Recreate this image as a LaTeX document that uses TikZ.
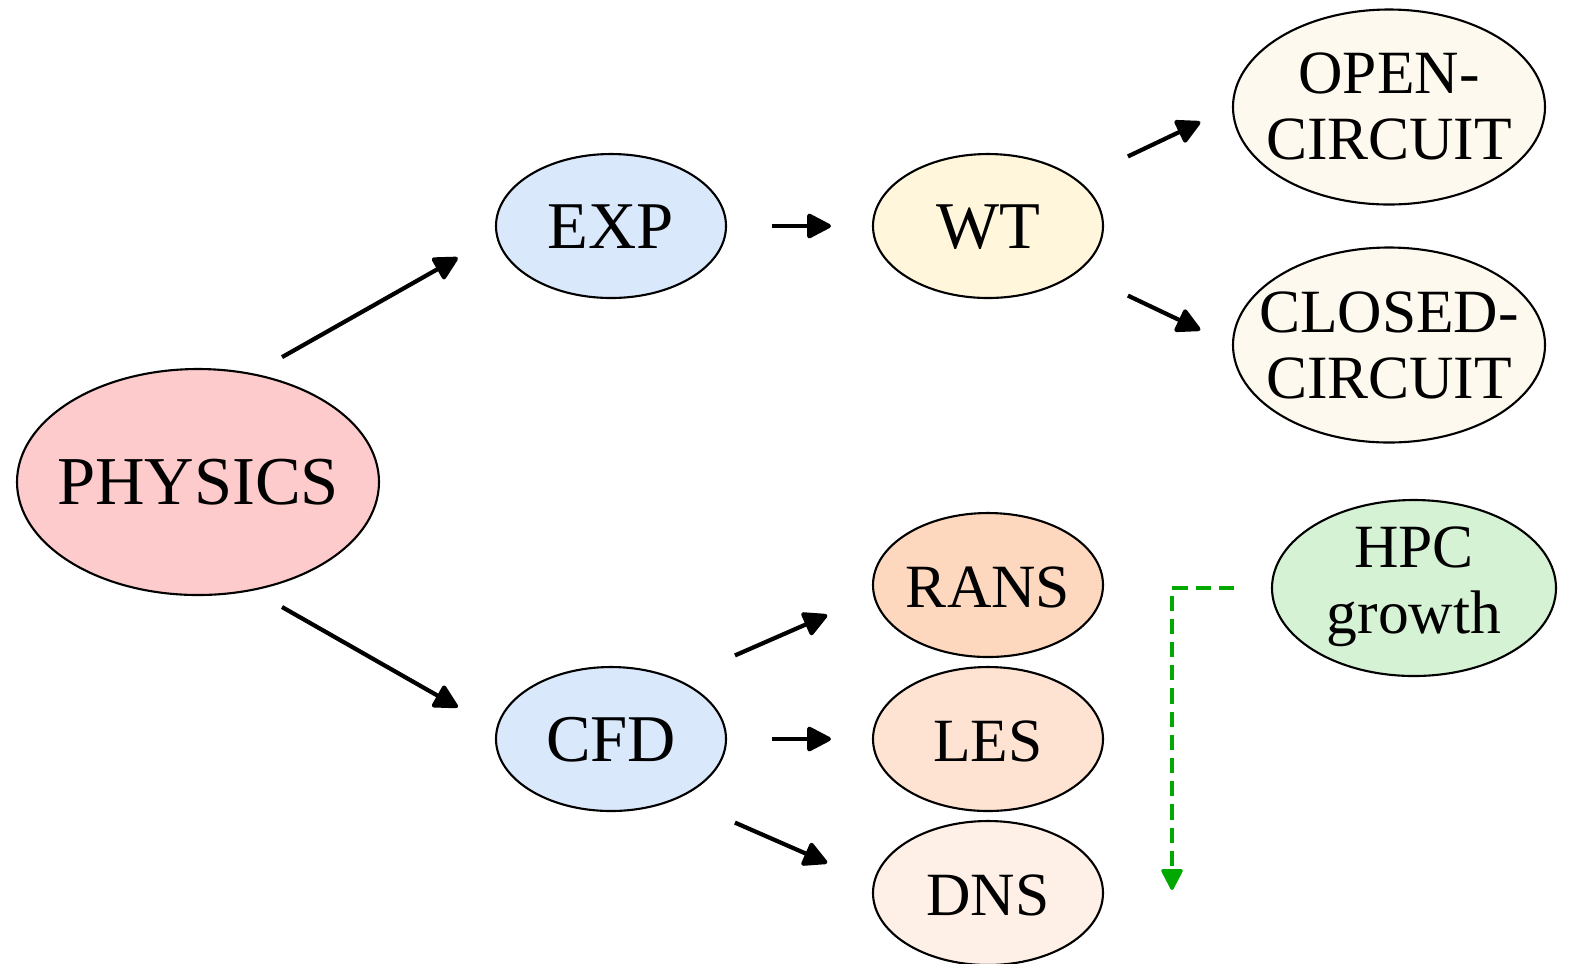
\documentclass[tikz,border=0pt]{standalone}
\usepackage{fontspec}
\setmainfont{Liberation Serif}
\usetikzlibrary{shapes.geometric,arrows.meta}
\definecolor{physfill}{HTML}{FDCBCB}
\definecolor{methfill}{HTML}{DAE8FC}
\definecolor{wtfill}{HTML}{FFF6DC}
\definecolor{circfill}{HTML}{FEF9EE}
\definecolor{ransfill}{HTML}{FDD7BE}
\definecolor{lesfill}{HTML}{FEE3D2}
\definecolor{dnsfill}{HTML}{FEEFE7}
\definecolor{hpcfill}{HTML}{D6F2D5}
\definecolor{hpcgreen}{HTML}{00A800}
% text that does not size the ellipse; #1 = first baseline below the centre
\newcommand{\blobtext}[2][0.22cm]{\raisebox{-#1}[0pt][0pt]{\makebox[0pt]{\begin{tabular}[t]{@{}c@{}}#2\end{tabular}}}}

\begin{document}
\begin{tikzpicture}[
	blob/.style={ellipse,draw=black,line width=0.6pt,inner sep=0pt},
	smallblob/.style={blob,minimum width=2.30cm,minimum height=1.44cm,font=\fontsize{19}{20}\selectfont},
	bigtext/.style={font=\fontsize{17.5}{19}\selectfont},
	arr/.style={line width=1.2pt,-{Triangle[length=7.5pt,width=7.5pt,round]}},
	hpcline/.style={hpcgreen,line width=0.9pt,dash pattern=on 4.3pt off 2.3pt,-{Triangle[length=6.5pt,width=6.5pt,round]}}
	]
			%%%%% START %%%%%
			\def\colm{6.11}
			\def\colw{9.88}
			\def\colc{13.89}
			\useasboundingbox (0,0) rectangle (15.70,-9.63);

			\node[blob,fill=physfill,minimum width=3.62cm,minimum height=2.26cm,font=\fontsize{19.5}{20}\selectfont] (phys) at (1.98,-4.82) {\blobtext{PHYSICS}};

			\node[smallblob,fill=methfill] (exp) at (\colm,-2.26) {\blobtext{EXP}};
			\node[smallblob,fill=methfill] (cfd) at (\colm,-7.39) {\blobtext{CFD}};

			\node[smallblob,fill=wtfill] (wt) at (\colw,-2.26) {\blobtext{WT}};
			\node[smallblob,fill=ransfill,bigtext] (rans) at (\colw,-5.85) {\blobtext{RANS}};
			\node[smallblob,fill=lesfill,bigtext] (les) at (\colw,-7.39) {\blobtext{LES}};
			\node[smallblob,fill=dnsfill,bigtext] (dns) at (\colw,-8.93) {\blobtext{DNS}};

			\node[blob,fill=circfill,minimum width=3.12cm,minimum height=1.95cm,bigtext] (open) at (\colc,-1.07) {\blobtext[-0.14cm]{OPEN-\\CIRCUIT}};
			\node[blob,fill=circfill,minimum width=3.12cm,minimum height=1.95cm,bigtext] (closed) at (\colc,-3.45) {\blobtext[-0.13cm]{CLOSED-\\CIRCUIT}};

			\node[blob,fill=hpcfill,minimum width=2.84cm,minimum height=1.76cm,bigtext] (hpc) at (14.14,-5.88) {\blobtext[-0.21cm]{HPC\\growth}};

			\draw[arr,shorten <=0.33cm,shorten >=0.44cm] (phys.63) -- (exp.185);
			\draw[arr,shorten <=0.33cm,shorten >=0.44cm] (phys.-63) -- (cfd.175);
			\draw[arr,shorten <=0.45cm,shorten >=0.41cm] (exp.east) -- (wt.west);
			\draw[arr,shorten <=0.55cm,shorten >=0.35cm] (wt.27) -- (open.180);
			\draw[arr,shorten <=0.55cm,shorten >=0.35cm] (wt.-27) -- (closed.180);
			\draw[arr,shorten <=0.61cm,shorten >=0.50cm] (cfd.41) -- (rans.185);
			\draw[arr,shorten <=0.45cm,shorten >=0.41cm] (cfd.east) -- (les.west);
			\draw[arr,shorten <=0.61cm,shorten >=0.50cm] (cfd.-41) -- (dns.175);

			\coordinate (hpcend) at (11.72,-8.90);
			\draw[hpcline,shorten <=0.37cm] (hpc.west) -| (hpcend);
			%%%%% END %%%%%
\end{tikzpicture}
\end{document}
